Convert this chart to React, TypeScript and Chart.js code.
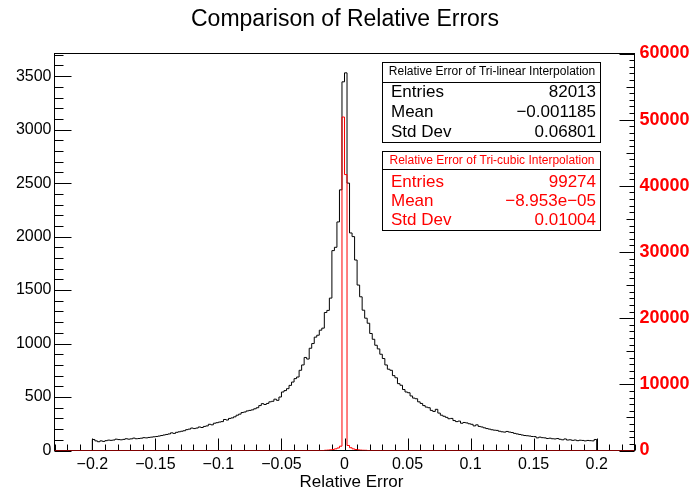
import React, { useEffect, useRef } from "react";
import { Chart, registerables } from "chart.js";

Chart.register(...registerables);

const FONT = '"Liberation Sans", Arial, Helvetica, sans-serif';

const TITLE = "Comparison of Relative Errors";
const X_TITLE = "Relative Error";

const X_MIN = -0.23;
const X_MAX = 0.23;
const BIN_WIDTH = 0.002;
const Y_LEFT_MAX = 3712;
const Y_RIGHT_MAX = 60000;

// Tri-linear histogram: 200 bins from -0.2 to 0.2
const LINEAR_START = -0.2;
const linearCounts = [
  103, 90, 82, 90, 85, 92, 97, 95, 98, 106,
  102, 100, 104, 110, 106, 109, 116, 110, 112, 115,
  120, 118, 122, 125, 128, 131, 135, 140, 145, 150,
  155, 165, 160, 170, 175, 180, 185, 195, 200, 210,
  205, 210, 220, 215, 225, 230, 245, 240, 255, 260,
  266, 270, 290, 285, 300, 305, 315, 330, 340, 355,
  360, 370, 375, 380, 390, 400, 420, 438, 430, 440,
  455, 460, 480, 469, 500, 547, 560, 578, 609, 640,
  672, 687, 750, 800, 870, 855, 956, 1000, 1060, 1078,
  1125, 1144, 1290, 1310, 1425, 1869, 1900, 2137, 2437, 3447,
  3531, 2500, 2034, 2000, 1781, 1547, 1437, 1312, 1237, 1190,
  1094, 1040, 984, 950, 900, 860, 800, 760, 750, 700,
  680, 625, 610, 570, 547, 540, 510, 490, 484, 455,
  440, 420, 406, 400, 375, 365, 385, 350, 330, 320,
  310, 297, 300, 280, 270, 275, 255, 262, 258, 250,
  245, 230, 240, 225, 220, 212, 205, 200, 194, 190,
  188, 180, 175, 172, 178, 172, 168, 160, 155, 150,
  145, 140, 138, 135, 131, 130, 118, 125, 120, 118,
  112, 115, 110, 108, 112, 105, 100, 108, 98, 100,
  95, 98, 92, 96, 94, 90, 94, 92, 90, 103,
];

// Tri-cubic histogram (right axis units): non-empty bins from -0.016; all other bins in [-0.23, 0.23] are empty
const CUBIC_START = -0.016;
const cubicCounts = [
  40, 60, 100, 150, 250, 380, 650, 50400,
  41700, 760, 420, 250, 150, 100, 60, 40, 30,
];

const xTickValues = [-0.2, -0.15, -0.1, -0.05, 0, 0.05, 0.1, 0.15, 0.2];
const xTickLabels = ["\u22120.2", "\u22120.15", "\u22120.1", "\u22120.05", "0", "0.05", "0.1", "0.15", "0.2"];
const yLeftTicks = [0, 500, 1000, 1500, 2000, 2500, 3000, 3500];
const yRightTicks = [0, 10000, 20000, 30000, 40000, 50000, 60000];

const X_MINOR_STEP = 0.01;
const Y_LEFT_MINOR_STEP = 100;
const Y_RIGHT_MINOR_STEP = 1000;

const statLabels = ["Entries", "Mean", "Std Dev"];
const linearName = "Relative Error of Tri-linear Interpolation";
const linearStatValues = ["82013", "\u22120.001185", "0.06801"];
const cubicName = "Relative Error of Tri-cubic Interpolation";
const cubicStatValues = ["99274", "\u22128.953e\u221205", "0.01004"];

function histPoints(start: number, counts: number[], lo?: number, hi?: number) {
  const pts: { x: number; y: number }[] = [];
  if (lo !== undefined) pts.push({ x: lo, y: 0 });
  pts.push({ x: start, y: 0 });
  counts.forEach((c, i) => pts.push({ x: start + i * BIN_WIDTH, y: c }));
  pts.push({ x: start + counts.length * BIN_WIDTH, y: 0 });
  if (hi !== undefined) pts.push({ x: hi, y: 0 });
  return pts;
}

function drawStatBox(
  ctx: CanvasRenderingContext2D,
  left: number,
  top: number,
  right: number,
  headerBottom: number,
  bottom: number,
  color: string,
  name: string,
  values: string[],
  headerY: number,
  rowYs: number[]
) {
  ctx.save();
  ctx.fillStyle = "#fff";
  ctx.fillRect(left, top, right - left, bottom - top);
  ctx.strokeStyle = "#000";
  ctx.lineWidth = 1;
  ctx.strokeRect(left + 0.5, top + 0.5, right - left, bottom - top);
  ctx.beginPath();
  ctx.moveTo(left, headerBottom + 0.5);
  ctx.lineTo(right, headerBottom + 0.5);
  ctx.stroke();
  ctx.fillStyle = color;
  ctx.textBaseline = "middle";
  ctx.textAlign = "center";
  ctx.font = `12px ${FONT}`;
  ctx.fillText(name, (left + right) / 2 + 1, headerY);
  ctx.font = `17px ${FONT}`;
  statLabels.forEach((lab, i) => {
    ctx.textAlign = "left";
    ctx.fillText(lab, left + 9, rowYs[i]);
    ctx.textAlign = "right";
    ctx.fillText(values[i], right - 4, rowYs[i]);
  });
  ctx.restore();
}

const rootPlugin = {
  id: "rootStyle",
  beforeDatasetsDraw(chart: any) {
    const { ctx, chartArea: ca, scales } = chart;
    ctx.save();
    ctx.strokeStyle = "#000";
    ctx.lineWidth = 1;
    // frame
    ctx.strokeRect(ca.left, ca.top, ca.right - ca.left, ca.bottom - ca.top);
    ctx.beginPath();
    // x ticks (inside, from bottom)
    const xs = scales.x;
    const nMinor = Math.round((X_MAX - 0.001) / X_MINOR_STEP);
    for (let k = -nMinor; k <= nMinor; k++) {
      const v = k * X_MINOR_STEP;
      const px = Math.round(xs.getPixelForValue(v)) + 0.5;
      const len = k % 5 === 0 ? 12 : 6;
      ctx.moveTo(px, ca.bottom);
      ctx.lineTo(px, ca.bottom - len);
    }
    // left y ticks
    const ys = scales.y;
    for (let v = 0; v <= Y_LEFT_MAX; v += Y_LEFT_MINOR_STEP) {
      const py = Math.round(ys.getPixelForValue(v)) + 0.5;
      const len = v % 500 === 0 ? 17 : 9;
      ctx.moveTo(ca.left, py);
      ctx.lineTo(ca.left + len, py);
    }
    // right y ticks
    const y2 = scales.y2;
    for (let v = 0; v <= Y_RIGHT_MAX; v += Y_RIGHT_MINOR_STEP) {
      const py = Math.round(y2.getPixelForValue(v)) + 0.5;
      const len = v % 10000 === 0 ? 15 : v % 5000 === 0 ? 8 : 5;
      ctx.moveTo(ca.right, py);
      ctx.lineTo(ca.right - len, py);
    }
    ctx.stroke();
    ctx.restore();
  },
  afterDraw(chart: any) {
    const { ctx } = chart;
    ctx.save();
    ctx.fillStyle = "#000";
    ctx.textAlign = "center";
    ctx.textBaseline = "middle";
    ctx.font = `23px ${FONT}`;
    ctx.fillText(TITLE, 345, 20);
    ctx.font = `17px ${FONT}`;
    ctx.fillText(X_TITLE, 351.5, 482);
    ctx.restore();
    drawStatBox(ctx, 382, 62, 600, 82, 142, "#000", linearName, linearStatValues, 72, [92.3, 112.3, 132.3]);
    drawStatBox(ctx, 382, 151, 600, 169, 230, "#ff0000", cubicName, cubicStatValues, 160.5, [182, 201, 220.5]);
  },
};

export default function App() {
  const ref = useRef<HTMLCanvasElement | null>(null);
  useEffect(() => {
    const canvas = ref.current;
    if (!canvas) return;
    Chart.defaults.font.family = FONT;
    const chart = new Chart(canvas, {
      type: "line",
      data: {
        datasets: [
          {
            label: "cubic",
            data: histPoints(CUBIC_START, cubicCounts, X_MIN, X_MAX),
            yAxisID: "y2",
            borderColor: "#ff0000",
            borderWidth: 1,
            pointRadius: 0,
            stepped: true,
            fill: false,
          },
          {
            label: "linear",
            data: histPoints(LINEAR_START, linearCounts),
            yAxisID: "y",
            borderColor: "#000000",
            borderWidth: 1,
            pointRadius: 0,
            stepped: true,
            fill: false,
          },
        ],
      },
      options: {
        animation: false,
        responsive: false,
        devicePixelRatio: 1,
        layout: { padding: { top: 53.5, left: 0, right: 0, bottom: 0 } },
        plugins: {
          legend: { display: false },
          tooltip: { enabled: false },
          title: { display: false },
        },
        scales: {
          x: {
            type: "linear",
            position: "bottom",
            min: X_MIN,
            max: X_MAX,
            afterBuildTicks: (s: any) => {
              s.ticks = xTickValues.map((v) => ({ value: v }));
            },
            afterFit: (s: any) => {
              s.height = 40.5;
            },
            ticks: {
              callback: (_v: any, i: number) => xTickLabels[i],
              font: { size: 16, family: FONT },
              color: "#000",
              padding: 4,
              maxRotation: 0,
              autoSkip: false,
            },
            grid: { display: false, drawTicks: false },
            border: { display: false },
          },
          y: {
            type: "linear",
            position: "left",
            min: 0,
            max: Y_LEFT_MAX,
            afterBuildTicks: (s: any) => {
              s.ticks = yLeftTicks.map((v) => ({ value: v }));
            },
            afterFit: (s: any) => {
              s.width = 54.5;
            },
            ticks: {
              callback: (v: any) => String(v),
              font: { size: 16, family: FONT },
              color: "#000",
              padding: 3,
              autoSkip: false,
            },
            grid: { display: false, drawTicks: false },
            border: { display: false },
          },
          y2: {
            type: "linear",
            position: "right",
            min: 0,
            max: Y_RIGHT_MAX,
            afterBuildTicks: (s: any) => {
              s.ticks = yRightTicks.map((v) => ({ value: v }));
            },
            afterFit: (s: any) => {
              s.width = 56.5;
            },
            ticks: {
              callback: (v: any) => String(v),
              font: { size: 18, family: FONT, weight: "bold" },
              color: "#ff0000",
              padding: 5,
              autoSkip: false,
            },
            grid: { display: false, drawTicks: false },
            border: { display: false },
          },
        },
      },
      plugins: [rootPlugin],
    } as any);
    return () => chart.destroy();
  }, []);
  return (
    <div style={{ position: "fixed", left: 0, top: 0, width: 691, height: 491, background: "#fff" }}>
      <canvas ref={ref} width={691} height={491} style={{ width: 691, height: 491, display: "block" }} />
    </div>
  );
}
